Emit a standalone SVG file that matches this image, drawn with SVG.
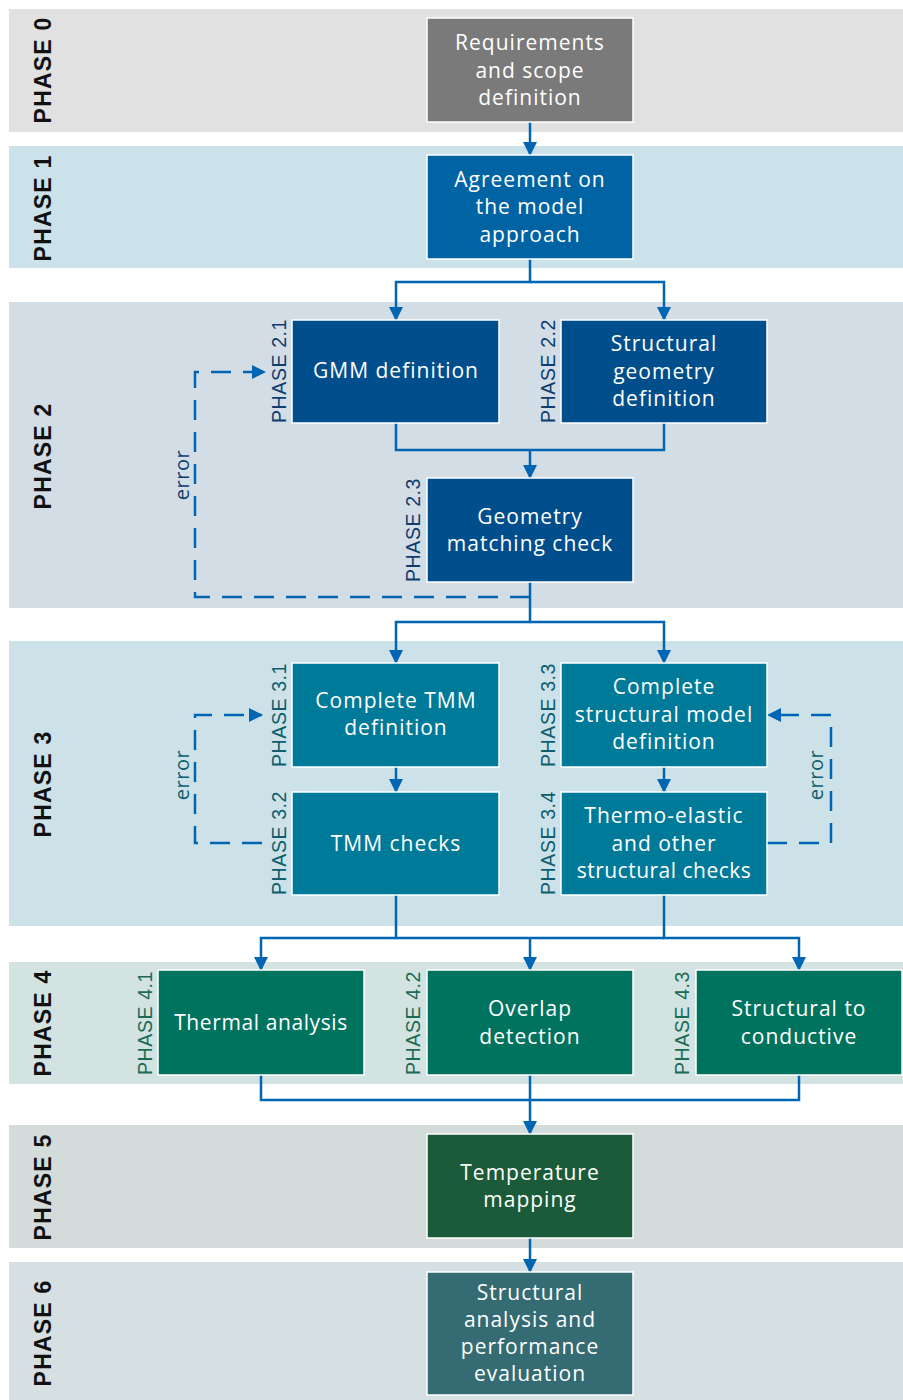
<svg xmlns="http://www.w3.org/2000/svg" width="903" height="1400" viewBox="0 0 903 1400">
<defs>
<marker id="arr" markerUnits="userSpaceOnUse" markerWidth="14" markerHeight="14" viewBox="0 0 14 14" refX="13" refY="7" orient="auto">
<path d="M0,0 L14,7 L0,14 Z" fill="#0066b3"/>
</marker>
</defs>
<style>
.band{stroke:none}
.node{stroke:#ffffff;stroke-width:1.5}
.nt{font-family:"Open Sans","Noto Sans",sans-serif;font-size:21px;fill:#ffffff;text-anchor:middle;dominant-baseline:central;letter-spacing:1px}
.ph{font-family:"Liberation Sans",Arial,sans-serif;font-size:23px;font-weight:bold;fill:#111111;text-anchor:middle;dominant-baseline:central;letter-spacing:1.2px}
.sp{font-family:"Liberation Sans",Arial,sans-serif;font-size:19.5px;text-anchor:start;dominant-baseline:central;letter-spacing:0.6px}
.c{fill:none;stroke:#0066b3;stroke-width:2.5}
.d{fill:none;stroke:#0066b3;stroke-width:2.5;stroke-dasharray:20 12}
.err{font-family:"Open Sans","Noto Sans",sans-serif;font-size:20px;text-anchor:middle;dominant-baseline:central;letter-spacing:0.5px}
</style>

<g id="bands">
<rect class="band" x="9" y="9" width="894" height="123" fill="#e1e1e1"/>
<rect class="band" x="9" y="146" width="894" height="122" fill="#cbe2ea"/>
<rect class="band" x="9" y="302" width="894" height="306" fill="#d3dde6"/>
<rect class="band" x="9" y="641" width="894" height="285" fill="#cce2e8"/>
<rect class="band" x="9" y="962" width="894" height="122" fill="#d2e3e2"/>
<rect class="band" x="9" y="1125" width="894" height="123" fill="#d3dcda"/>
<rect class="band" x="9" y="1262" width="894" height="138" fill="#d6e0e2"/>
<text class="ph" transform="translate(43,70) rotate(-90)">PHASE 0</text>
<text class="ph" transform="translate(43,208) rotate(-90)">PHASE 1</text>
<text class="ph" transform="translate(43,456) rotate(-90)">PHASE 2</text>
<text class="ph" transform="translate(43,784) rotate(-90)">PHASE 3</text>
<text class="ph" transform="translate(43,1023) rotate(-90)">PHASE 4</text>
<text class="ph" transform="translate(43,1187) rotate(-90)">PHASE 5</text>
<text class="ph" transform="translate(43,1333) rotate(-90)">PHASE 6</text>
</g>

<g id="connectors">
<path class="c" d="M530,122 V155" marker-end="url(#arr)"/>
<path class="c" d="M530,259 V282 H396 V320" marker-end="url(#arr)"/>
<path class="c" d="M530,282 H664 V320" marker-end="url(#arr)"/>
<path class="c" d="M396,423 V450 H664 V423"/>
<path class="c" d="M530,450 V478" marker-end="url(#arr)"/>
<path class="c" d="M530,582 V622 H396 V663" marker-end="url(#arr)"/>
<path class="c" d="M530,622 H664 V663" marker-end="url(#arr)"/>
<path class="c" d="M396,767 V792" marker-end="url(#arr)"/>
<path class="c" d="M664,767 V792" marker-end="url(#arr)"/>
<path class="c" d="M396,895 V938 H261 V970" marker-end="url(#arr)"/>
<path class="c" d="M664,895 V938 H799 V970" marker-end="url(#arr)"/>
<path class="c" d="M396,938 H664"/>
<path class="c" d="M530,938 V970" marker-end="url(#arr)"/>
<path class="c" d="M261,1075 V1100 H799 V1075"/>
<path class="c" d="M530,1075 V1134" marker-end="url(#arr)"/>
<path class="c" d="M530,1238 V1272" marker-end="url(#arr)"/>
<path class="d" d="M530,597 H195 V372 H265" marker-end="url(#arr)"/>
<path class="d" d="M262,843 H195 V715 H262" marker-end="url(#arr)"/>
<path class="d" d="M767,843 H831 V715 H768" marker-end="url(#arr)"/>
<text class="err" fill="#0f3d6e" transform="translate(181,475) rotate(-90)">error</text>
<text class="err" fill="#0d5e6e" transform="translate(181,775) rotate(-90)">error</text>
<text class="err" fill="#0d5e6e" transform="translate(815,775) rotate(-90)">error</text>
</g>

<g id="n0">
<rect class="node" x="427" y="18" width="206" height="104" fill="#7a7a7a"/>
<text class="nt" x="530" y="42">Requirements</text>
<text class="nt" x="530" y="70">and scope</text>
<text class="nt" x="530" y="97">definition</text>
</g>
<g id="n1">
<rect class="node" x="427" y="155" width="206" height="104" fill="#0064a4"/>
<text class="nt" x="530" y="179">Agreement on</text>
<text class="nt" x="530" y="206">the model</text>
<text class="nt" x="530" y="234">approach</text>
</g>
<g id="n21">
<rect class="node" x="292" y="320" width="207" height="103" fill="#004f8c"/>
<text class="nt" x="396" y="370">GMM definition</text>
<text class="sp" fill="#0f3d6e" transform="translate(279,423) rotate(-90)">PHASE 2.1</text>
</g>
<g id="n22">
<rect class="node" x="561" y="320" width="206" height="103" fill="#004f8c"/>
<text class="nt" x="664" y="343">Structural</text>
<text class="nt" x="664" y="371">geometry</text>
<text class="nt" x="664" y="398">definition</text>
<text class="sp" fill="#0f3d6e" transform="translate(548,423) rotate(-90)">PHASE 2.2</text>
</g>
<g id="n23">
<rect class="node" x="427" y="478" width="206" height="104" fill="#004f8c"/>
<text class="nt" x="530" y="516">Geometry</text>
<text class="nt" x="530" y="543">matching check</text>
<text class="sp" fill="#0f3d6e" transform="translate(413,582) rotate(-90)">PHASE 2.3</text>
</g>
<g id="n31">
<rect class="node" x="292" y="663" width="207" height="104" fill="#007a99"/>
<text class="nt" x="396" y="700">Complete TMM</text>
<text class="nt" x="396" y="727">definition</text>
<text class="sp" fill="#0d5e6e" transform="translate(279,767) rotate(-90)">PHASE 3.1</text>
</g>
<g id="n32">
<rect class="node" x="292" y="792" width="207" height="103" fill="#007a99"/>
<text class="nt" x="396" y="843">TMM checks</text>
<text class="sp" fill="#0d5e6e" transform="translate(279,895) rotate(-90)">PHASE 3.2</text>
</g>
<g id="n33">
<rect class="node" x="561" y="663" width="206" height="104" fill="#007a99"/>
<text class="nt" x="664" y="686">Complete</text>
<text class="nt" x="664" y="714">structural model</text>
<text class="nt" x="664" y="741">definition</text>
<text class="sp" fill="#0d5e6e" transform="translate(548,767) rotate(-90)">PHASE 3.3</text>
</g>
<g id="n34">
<rect class="node" x="561" y="792" width="206" height="103" fill="#007a99"/>
<text class="nt" x="664" y="815">Thermo-elastic</text>
<text class="nt" x="664" y="843">and other</text>
<text class="nt" x="664" y="870" style="letter-spacing:0.5px">structural checks</text>
<text class="sp" fill="#0d5e6e" transform="translate(548,895) rotate(-90)">PHASE 3.4</text>
</g>
<g id="n41">
<rect class="node" x="158" y="970" width="206" height="105" fill="#00735f"/>
<text class="nt" x="261" y="1022" style="letter-spacing:0.6px">Thermal analysis</text>
<text class="sp" fill="#1b6b55" transform="translate(145,1075) rotate(-90)">PHASE 4.1</text>
</g>
<g id="n42">
<rect class="node" x="427" y="970" width="206" height="105" fill="#00735f"/>
<text class="nt" x="530" y="1008">Overlap</text>
<text class="nt" x="530" y="1036">detection</text>
<text class="sp" fill="#1b6b55" transform="translate(413,1075) rotate(-90)">PHASE 4.2</text>
</g>
<g id="n43">
<rect class="node" x="696" y="970" width="206" height="105" fill="#00735f"/>
<text class="nt" x="799" y="1008">Structural to</text>
<text class="nt" x="799" y="1036">conductive</text>
<text class="sp" fill="#1b6b55" transform="translate(682,1075) rotate(-90)">PHASE 4.3</text>
</g>
<g id="n5">
<rect class="node" x="427" y="1134" width="206" height="104" fill="#1b5b3a"/>
<text class="nt" x="530" y="1172">Temperature</text>
<text class="nt" x="530" y="1199">mapping</text>
</g>
<g id="n6">
<rect class="node" x="427" y="1272" width="206" height="123" fill="#356b73"/>
<text class="nt" x="530" y="1292">Structural</text>
<text class="nt" x="530" y="1319">analysis and</text>
<text class="nt" x="530" y="1346">performance</text>
<text class="nt" x="530" y="1373">evaluation</text>
</g>
</svg>
